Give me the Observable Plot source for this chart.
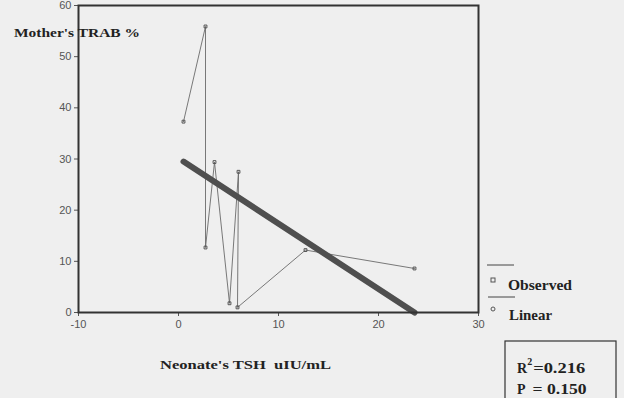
<!DOCTYPE html>
<html><head><meta charset="utf-8">
<script src="https://cdn.jsdelivr.net/npm/d3@7"></script>
<script src="https://cdn.jsdelivr.net/npm/@observablehq/plot@0.6"></script>
<style>
body{margin:0;background:#efefef;}
#chart{position:relative;width:624px;height:398px;overflow:hidden;}
</style>
</head><body><div id="chart"></div><script>
const tshValues  = [0.5, 2.7, 2.7, 3.6, 5.1, 6.0, 5.9, 12.7, 23.6];
const trabValues = [37.3, 55.9, 12.7, 29.4, 1.8, 27.5, 1.0, 12.2, 8.6];
const linearX = [0.5, 23.6];
const linearY = [29.5, 0];
const xTicks = [-10, 0, 10, 20, 30];
const yTicks = [0, 10, 20, 30, 40, 50, 60];
const xTitle = "Neonate's TSH  uIU/mL";
const yTitle = "Mother's TRAB %";
const legendLabels = ["Observed", "Linear"];
const statLabels = ["R", "=0.216", "P", "= 0.150"];

const observed = tshValues.map((x, i) => ({x, y: trabValues[i]}));
const linear = linearX.map((x, i) => ({x, y: linearY[i]}));

const plot = Plot.plot({
  width: 624, height: 398,
  marginLeft: 78, marginRight: 146, marginTop: 5, marginBottom: 86,
  style: {background: "transparent", fontFamily: "'Liberation Sans', Arial, sans-serif", fontSize: "11px", color: "#555", overflow: "visible"},
  x: {domain: [-10, 30]},
  y: {domain: [0, 60]},
  marks: [
    Plot.axisX({ticks: xTicks, tickSize: 4, tickPadding: 4, label: null, tickFormat: d => d, fill: "#555"}),
    Plot.axisY({ticks: yTicks, tickSize: 4, tickPadding: 3, label: null, tickFormat: d => d, fill: "#555"}),
    Plot.line(observed, {x: "x", y: "y", stroke: "#6a6a6a", strokeWidth: 0.9}),
    Plot.dot(observed, {x: "x", y: "y", symbol: "square", r: 1.6, stroke: "#555", fill: "none", strokeWidth: 1}),
    Plot.line(linear, {x: "x", y: "y", stroke: "#4f4f4f", strokeWidth: 6}),
    Plot.frame({stroke: "#333", strokeWidth: 2})
  ]
});
document.getElementById("chart").appendChild(plot);

const svg = d3.select(plot);
const serif = "'Liberation Serif', 'Times New Roman', serif";
svg.append("text").attr("x", 14).attr("y", 37).attr("text-anchor", "start").attr("font-family", serif).attr("font-weight", "bold")
  .attr("font-size", 13).attr("fill", "#222").attr("textLength", 126).attr("lengthAdjust", "spacingAndGlyphs").text(yTitle);
svg.append("text").attr("x", 160).attr("y", 369).attr("text-anchor", "start").attr("font-family", serif)
  .attr("font-weight", "bold").attr("font-size", 13).attr("fill", "#222").attr("textLength", 171).attr("lengthAdjust", "spacingAndGlyphs").text(xTitle);

// legend
const lg = svg.append("g").attr("text-anchor", "start").attr("font-family", serif).attr("font-weight", "bold").attr("font-size", 14).attr("fill", "#222");
lg.append("line").attr("x1", 487).attr("x2", 514).attr("y1", 265).attr("y2", 265).attr("stroke", "#444").attr("stroke-width", 1);
lg.append("rect").attr("x", 491).attr("y", 278).attr("width", 4).attr("height", 4).attr("fill", "none").attr("stroke", "#555");
lg.append("text").attr("x", 508).attr("y", 290).attr("textLength", 64).attr("lengthAdjust", "spacingAndGlyphs").text(legendLabels[0]);
lg.append("line").attr("x1", 488).attr("x2", 515).attr("y1", 297).attr("y2", 297).attr("stroke", "#444").attr("stroke-width", 1);
lg.append("circle").attr("cx", 493).attr("cy", 309).attr("r", 2).attr("fill", "none").attr("stroke", "#555");
lg.append("text").attr("x", 509).attr("y", 320).attr("textLength", 43).attr("lengthAdjust", "spacingAndGlyphs").text(legendLabels[1]);

// stats box
const sb = svg.append("g").attr("text-anchor", "start").attr("font-family", serif).attr("font-weight", "bold").attr("font-size", 14).attr("fill", "#222");
sb.append("rect").attr("x", 505).attr("y", 341).attr("width", 111).attr("height", 60).attr("fill", "none").attr("stroke", "#333").attr("stroke-width", 1.2);
const t1 = sb.append("text").attr("x", 517).attr("y", 373);
t1.append("tspan").text(statLabels[0]);
t1.append("tspan").attr("dy", -8).attr("font-size", 10).text("2");
t1.append("tspan").attr("dy", 8).attr("dx", 1).attr("textLength", 52).attr("lengthAdjust", "spacingAndGlyphs").text(statLabels[1]);
const t2 = sb.append("text").attr("x", 517).attr("y", 394);
t2.append("tspan").text(statLabels[2]);
t2.append("tspan").attr("dx", 7).attr("textLength", 54).attr("lengthAdjust", "spacingAndGlyphs").text(statLabels[3]);
</script></body></html>
